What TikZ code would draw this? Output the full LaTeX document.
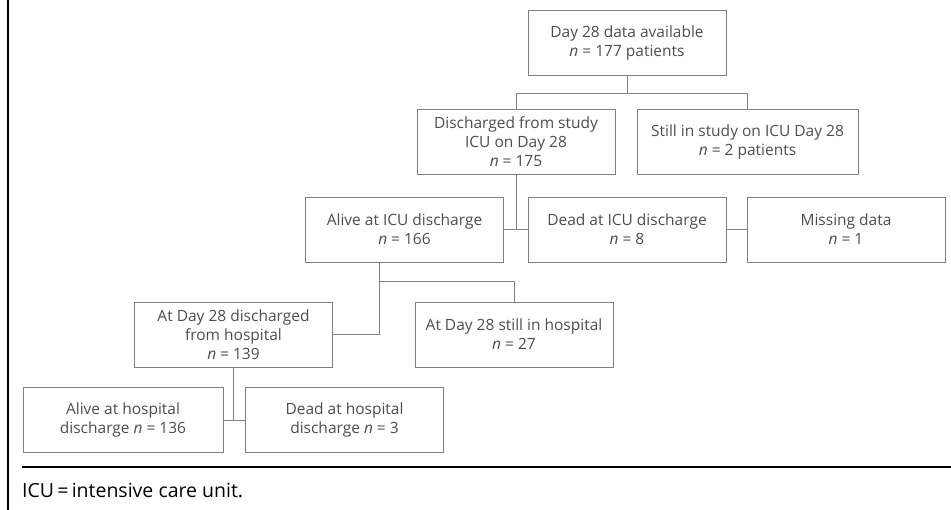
\documentclass[tikz,border=0pt]{standalone}
\usepackage{fontspec}
\setmainfont{Open Sans}
\usepackage{xcolor}
\usetikzlibrary{positioning}
\definecolor{boxline}{HTML}{808080}
\definecolor{boxtext}{HTML}{4D4D4D}

\begin{document}
\begin{tikzpicture}[
    x=1pt, y=-1pt,
    box/.style={rectangle, draw=boxline, line width=0.9pt, minimum width=198pt, minimum height=65pt, align=center, text=boxtext, font=\fontsize{15.5}{19}\selectfont, inner sep=1pt},
    link/.style={draw=boxline, line width=0.9pt},
    rule/.style={draw=black, line width=2pt}
]
    \useasboundingbox (0,0) rectangle (951,510);
    \node[box] (top) at (627,43) {Day 28 data available\\\textit{n} = 177 patients};
    \node[box] (disc) at (516,141.5) {Discharged from study\\ICU on Day 28\\\textit{n} = 175};
    \node[box, minimum width=221pt] (still) at (747.5,141.5) {Still in study on ICU Day 28\\\textit{n} = 2 patients};
    \node[box] (alive) at (404.5,229.5) {Alive at ICU discharge\\\textit{n} = 166};
    \node[box] (dead) at (627,229.5) {Dead at ICU discharge\\\textit{n} = 8};
    \node[box] (miss) at (846,229.5) {Missing data\\\textit{n} = 1};
    \node[box] (dhosp) at (233.5,334.5) {At Day 28 discharged\\from hospital\\\textit{n} = 139};
    \node[box] (inhosp) at (514,334.5) {At Day 28 still in hospital\\\textit{n} = 27};
    \node[box, minimum width=200pt] (alivehosp) at (123,420) {Alive at hospital\\discharge \textit{n} = 136};
    \node[box] (deadhosp) at (344.5,420) {Dead at hospital\\discharge \textit{n} = 3};

    % tree connectors
    \draw[link] (top.south) -- ++(0,18) -| (disc.north);
    \draw[link] (top.south) -- ++(0,18) -| (still.north);
    \draw[link] (disc.south) -- (disc.south |- alive.east);
    \draw[link] (alive.east) -- (dead.west);
    \draw[link] (dead.east) -- (miss.west);
    \coordinate (fork) at ([xshift=-25pt]alive.south);
    \draw[link] (fork) |- (dhosp.east);
    \draw[link] (fork) ++(0,19) -| (inhosp.north);
    \draw[link] (dhosp.south) -- (dhosp.south |- alivehosp.east);
    \draw[link] (alivehosp.east) -- (deadhosp.west);

    % frame and footnote
    \coordinate (frametop) at (8,0);
    \coordinate (framebot) at (8,510);
    \draw[rule, line width=2.5pt] (frametop) -- (framebot);
    \coordinate (ruleleft) at (22,467);
    \coordinate (ruleright) at (951,467);
    \draw[rule] (ruleleft) -- (ruleright);
    \node[anchor=base west, inner sep=0pt, font=\fontsize{19.5}{22}\selectfont] (note) at (22,497) {ICU\,=\,intensive care unit.};
\end{tikzpicture}
\end{document}
